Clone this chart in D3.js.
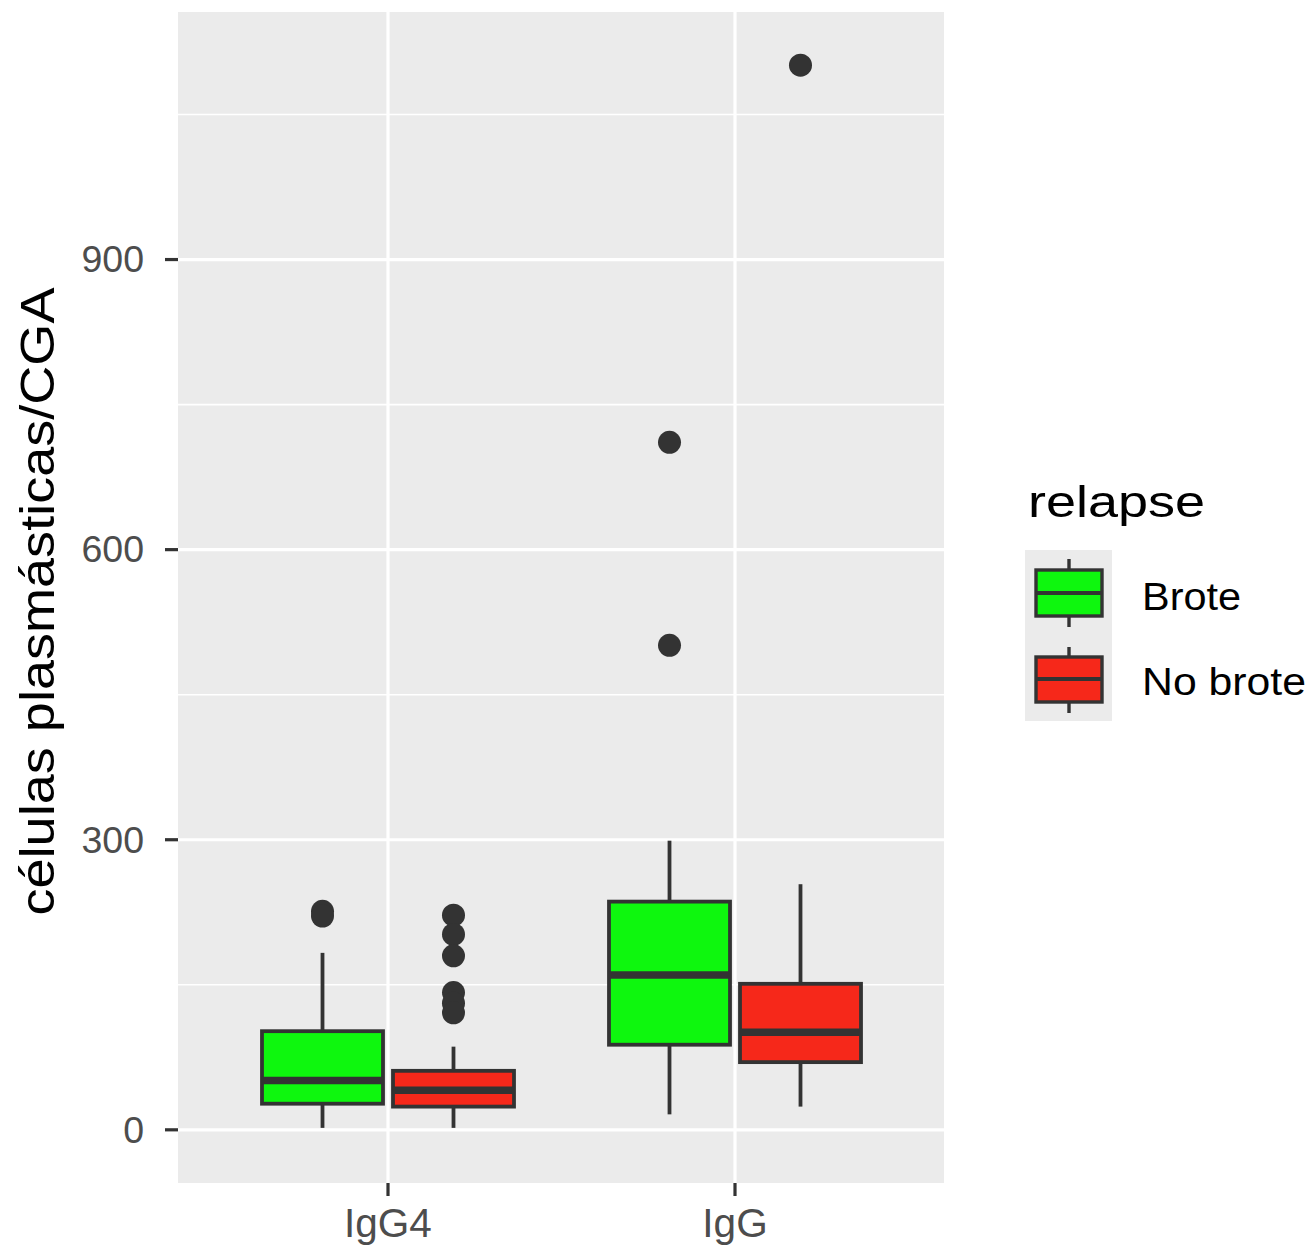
<!DOCTYPE html>
<html>
<head>
<meta charset="utf-8">
<script src="https://cdn.jsdelivr.net/npm/d3@7"></script>
<style>
  html, body { margin: 0; padding: 0; background: #ffffff; }
  svg { display: block; }
  text { font-family: "Liberation Sans", Arial, Helvetica, sans-serif; }
</style>
</head>
<body>
<svg id="chart" width="1312" height="1250"></svg>
<script>
// ---- data ----
const categories = ["IgG4", "IgG"];
const groups = ["Brote", "No brote"];
const legendTitle = "relapse";
const yTitle = "células plasmásticas/CGA";
const yTicks = [0, 300, 600, 900];
const yMinorTicks = [150, 450, 750, 1050];

// Brote (per category)
const broteMin    = [2, 16];
const broteQ1     = [27, 88];
const broteMedian = [51, 160];
const broteQ3     = [102, 236];
const broteMax    = [183, 299];
const broteOutliers = [[226, 221], [711, 501]];

// No brote (per category)
const noBroteMin    = [2, 24];
const noBroteQ1     = [24, 70];
const noBroteMedian = [41, 101];
const noBroteQ3     = [61, 151];
const noBroteMax    = [86, 254];
const noBroteOutliers = [[222, 202, 180, 142, 131, 121], [1101]];

// ---- build ----
const series = [
  {group: groups[0], min: broteMin, q1: broteQ1, med: broteMedian, q3: broteQ3, max: broteMax, out: broteOutliers},
  {group: groups[1], min: noBroteMin, q1: noBroteQ1, med: noBroteMedian, q3: noBroteQ3, max: noBroteMax, out: noBroteOutliers}
];
const fills = {"Brote": "#0ef70e", "No brote": "#f6281a"};
const ink = "#333333";

const panel = {x0: 178, x1: 944, y0: 12, y1: 1183};
const svg = d3.select("#chart");

const y = d3.scaleLinear().domain([-55, 1156]).range([panel.y1, panel.y0]);
const x = d3.scalePoint().domain(categories).range([388, 735]);
const xInner = d3.scaleBand().domain(groups).range([-126, 126]).paddingInner(0.0763);

// panel background
svg.append("rect").attr("x", panel.x0).attr("y", panel.y0)
  .attr("width", panel.x1 - panel.x0).attr("height", panel.y1 - panel.y0)
  .attr("fill", "#ebebeb");

// minor grid
svg.selectAll(".minor").data(yMinorTicks).enter().append("line")
  .attr("x1", panel.x0).attr("x2", panel.x1)
  .attr("y1", d => y(d)).attr("y2", d => y(d))
  .attr("stroke", "#ffffff").attr("stroke-width", 1.6);
// major grid
svg.selectAll(".major").data(yTicks).enter().append("line")
  .attr("x1", panel.x0).attr("x2", panel.x1)
  .attr("y1", d => y(d)).attr("y2", d => y(d))
  .attr("stroke", "#ffffff").attr("stroke-width", 3.2);
svg.selectAll(".vmajor").data(categories).enter().append("line")
  .attr("x1", d => x(d)).attr("x2", d => x(d))
  .attr("y1", panel.y0).attr("y2", panel.y1)
  .attr("stroke", "#ffffff").attr("stroke-width", 3.2);

// boxes
const bw = xInner.bandwidth();
series.forEach(s => {
  categories.forEach((c, i) => {
    const cx = x(c) + xInner(s.group) + bw / 2;
    const g = svg.append("g");
    // whiskers
    g.append("line").attr("x1", cx).attr("x2", cx)
      .attr("y1", y(s.max[i])).attr("y2", y(s.q3[i]))
      .attr("stroke", ink).attr("stroke-width", 3.8);
    g.append("line").attr("x1", cx).attr("x2", cx)
      .attr("y1", y(s.q1[i])).attr("y2", y(s.min[i]))
      .attr("stroke", ink).attr("stroke-width", 3.8);
    // box
    g.append("rect").attr("x", cx - bw / 2).attr("width", bw)
      .attr("y", y(s.q3[i])).attr("height", y(s.q1[i]) - y(s.q3[i]))
      .attr("fill", fills[s.group]).attr("stroke", ink).attr("stroke-width", 3.8);
    // median
    g.append("line").attr("x1", cx - bw / 2).attr("x2", cx + bw / 2)
      .attr("y1", y(s.med[i])).attr("y2", y(s.med[i]))
      .attr("stroke", ink).attr("stroke-width", 7.5);
    // outliers
    g.selectAll("circle").data(s.out[i]).enter().append("circle")
      .attr("cx", cx).attr("cy", d => y(d)).attr("r", 11.5)
      .attr("fill", ink);
  });
});

// y axis ticks + labels
svg.selectAll(".ytick").data(yTicks).enter().append("line")
  .attr("x1", panel.x0 - 13).attr("x2", panel.x0)
  .attr("y1", d => y(d)).attr("y2", d => y(d))
  .attr("stroke", ink).attr("stroke-width", 3.2);
svg.selectAll(".ylab").data(yTicks).enter().append("text")
  .attr("x", 144).attr("y", d => y(d) + 12.8)
  .attr("text-anchor", "end").attr("font-size", 37.5).attr("fill", "#4d4d4d")
  .text(d => d);

// x axis ticks + labels
svg.selectAll(".xtick").data(categories).enter().append("line")
  .attr("x1", d => x(d)).attr("x2", d => x(d))
  .attr("y1", panel.y1).attr("y2", panel.y1 + 13)
  .attr("stroke", ink).attr("stroke-width", 3.2);
svg.selectAll(".xlab").data(categories).enter().append("text")
  .attr("x", d => x(d)).attr("y", 1237)
  .attr("text-anchor", "middle").attr("font-size", 40.5).attr("fill", "#4d4d4d")
  .text(d => d);

// y title
svg.append("text")
  .attr("transform", "translate(54," + ((panel.y0 + panel.y1) / 2 + 4) + ") rotate(-90)")
  .attr("text-anchor", "middle").attr("font-size", 49).attr("fill", "#000000")
  .attr("textLength", 628).attr("lengthAdjust", "spacingAndGlyphs")
  .text(yTitle);

// legend
svg.append("text").attr("x", 1028).attr("y", 517)
  .attr("font-size", 45).attr("fill", "#000000")
  .attr("textLength", 177).attr("lengthAdjust", "spacingAndGlyphs")
  .text(legendTitle);
svg.append("rect").attr("x", 1025).attr("y", 550).attr("width", 87).attr("height", 171)
  .attr("fill", "#ebebeb");
const keys = [
  {group: groups[0], top: 570, bot: 616, med: 593, wt: 559, wb: 627, label: 610, len: 99},
  {group: groups[1], top: 657, bot: 702, med: 679, wt: 647, wb: 713, label: 695, len: 164}
];
keys.forEach(k => {
  svg.append("line").attr("x1", 1069).attr("x2", 1069).attr("y1", k.wt).attr("y2", k.wb)
    .attr("stroke", ink).attr("stroke-width", 3.4);
  svg.append("rect").attr("x", 1036).attr("y", k.top).attr("width", 66).attr("height", k.bot - k.top)
    .attr("fill", fills[k.group]).attr("stroke", ink).attr("stroke-width", 3.4);
  svg.append("line").attr("x1", 1036).attr("x2", 1102).attr("y1", k.med).attr("y2", k.med)
    .attr("stroke", ink).attr("stroke-width", 4);
  svg.append("text").attr("x", 1142).attr("y", k.label)
    .attr("font-size", 39).attr("fill", "#000000")
    .attr("textLength", k.len).attr("lengthAdjust", "spacingAndGlyphs")
    .text(k.group);
});
</script>
</body>
</html>
